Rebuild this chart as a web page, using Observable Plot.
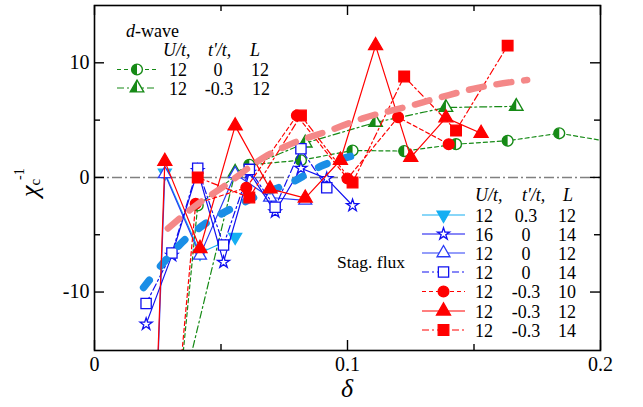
<!DOCTYPE html>
<html>
<head>
<meta charset="utf-8">
<script src="https://cdn.jsdelivr.net/npm/d3@7"></script>
<script src="https://cdn.jsdelivr.net/npm/@observablehq/plot@0.6"></script>
<style>
  html, body { margin: 0; padding: 0; background: #fff; }
  #chart { width: 643px; height: 407px; }
</style>
</head>
<body>
<div id="chart"></div>
<script>
// ---------------- data ----------------
// d-wave, U/t=12, t'/t=0, L=12 (green dashed, half-filled circles)
const dwA_x = [0.0204, 0.0408, 0.0612, 0.0816, 0.1020, 0.1224, 0.1429, 0.1633, 0.1837, 0.2041];
const dwA_y = [-48, -2.45, 1.1, 1.5, 2.35, 2.3, 2.9, 3.2, 3.85, 3.1];
// d-wave, U/t=12, t'/t=-0.3, L=12 (green dash-dot, half-filled triangles)
const dwB_x = [0.0278, 0.0556, 0.0833, 0.1111, 0.1389, 0.1667];
const dwB_y = [-25, 0.45, 3.0, 4.8, 6.1, 6.2];
// Stag. flux, U/t=12, t'/t=0.3, L=12 (cyan, down triangles)
const sfCyan_x = [0.0278, 0.0417, 0.0556];
const sfCyan_y = [0.4, -6.6, -5.2];
// Stag. flux, U/t=16, t'/t=0, L=14 (blue, stars)
const sfStar_x = [0.0204, 0.0306, 0.0408, 0.0510, 0.0612, 0.0714, 0.0816, 0.0918, 0.1020];
const sfStar_y = [-12.8, -6.8, 0.6, -7.4, 0.45, -3.0, 0.8, -0.1, -2.45];
// Stag. flux, U/t=12, t'/t=0, L=12 (blue, open triangles)
const sfTri_x = [0.0208, 0.0278, 0.0417, 0.0556, 0.0694, 0.0833];
const sfTri_y = [-42, 0.3, -6.8, 0.3, -1.75, -2.0];
// Stag. flux, U/t=12, t'/t=0, L=14 (blue dash-dot, open squares)
const sfSq_x = [0.0204, 0.0306, 0.0408, 0.0510, 0.0612, 0.0714, 0.0816, 0.0918];
const sfSq_y = [-11.0, -6.6, 0.8, -5.9, 0.7, -2.6, 2.5, -0.9];
// Stag. flux, U/t=12, t'/t=-0.3, L=10 (red dashed, circles)
const sfCirc_x = [0.02, 0.04, 0.06, 0.08, 0.10, 0.12, 0.14];
const sfCirc_y = [-50, -2.3, -0.9, 5.4, -0.1, 5.25, 2.9];
// Stag. flux, U/t=12, t'/t=-0.3, L=12 (red solid, triangles)
const sfRTri_x = [0.0208, 0.0278, 0.0417, 0.0556, 0.0694, 0.0833, 0.0972, 0.1111, 0.1250, 0.1389, 0.1528];
const sfRTri_y = [-42, 1.4, -6.2, 4.5, -1.0, -1.8, 1.5, 11.5, 1.75, 5.2, 3.85];
// Stag. flux, U/t=12, t'/t=-0.3, L=14 (red dash-dot, squares)
const sfRSq_x = [0.0408, 0.0612, 0.0816, 0.1020, 0.1224, 0.1429, 0.1633];
const sfRSq_y = [0.0, -1.75, 5.4, -0.45, 8.8, 4.1, 11.5];
// thick dashed guide curves
const fitBlue_x = [0.0194, 0.0364, 0.0447, 0.0542, 0.0656, 0.0787, 0.0893, 0.1012];
const fitBlue_y = [-9.6, -5.3, -3.9, -2.7, -1.5, -0.35, 0.96, 1.83];
const fitPink_x = [0.029, 0.040, 0.051, 0.067, 0.078, 0.093, 0.106, 0.124, 0.137, 0.150, 0.171];
const fitPink_y = [-4.45, -2.45, -0.8, 1.75, 2.95, 4.1, 5.15, 6.2, 7.0, 7.75, 8.5];

// axes
const xLabelTicks = [0, 0.1, 0.2];
const xMinorTicks = [0.05, 0.15];
const yLabelTicks = [-10, 0, 10];
const yMinorTicks = [-5, 5];

// ---------------- helpers ----------------
const zip = (xs, ys) => xs.map((x, i) => ({x, y: ys[i]}));

const triDown = {
  draw(ctx, size) {
    const y = -Math.sqrt(size / (Math.sqrt(3) * 3));
    ctx.moveTo(0, -y * 2);
    ctx.lineTo(-Math.sqrt(3) * y, y);
    ctx.lineTo(Math.sqrt(3) * y, y);
    ctx.closePath();
  }
};
const halfCircleLeft = {
  draw(ctx, size) {
    const r = Math.sqrt(size / Math.PI);
    ctx.moveTo(0, -r);
    ctx.arc(0, 0, r, -Math.PI / 2, Math.PI / 2, true);
    ctx.closePath();
  }
};
const halfTriLeft = {
  draw(ctx, size) {
    const y = -Math.sqrt(size / (Math.sqrt(3) * 3));
    ctx.moveTo(0, y * 2);
    ctx.lineTo(Math.sqrt(3) * y, -y);
    ctx.lineTo(0, -y);
    ctx.closePath();
  }
};

const GREEN = "#168a16";
const CYAN = "#14aef2";
const BLUE = "#1010f0";
const BLUE2 = "#2a3cf5";
const RED = "#ff0000";

const S = {
  dwA: {x: dwA_x, y: dwA_y, stroke: GREEN, dash: "4,3", sym: "circle", half: halfCircleLeft, r: 5.4, open: true},
  dwB: {x: dwB_x, y: dwB_y, stroke: GREEN, dash: "7,3,2,3", sym: "triangle", half: halfTriLeft, r: 5, open: true},
  fitBlue: {fit: true, x: fitBlue_x, y: fitBlue_y, stroke: "#1a8ee6", width: 7.5, dash: "9,18"},
  fitPink: {fit: true, x: fitPink_x, y: fitPink_y, stroke: "#f48888", width: 6.5, dash: "15,13"},
  cyan: {x: sfCyan_x, y: sfCyan_y, stroke: CYAN, dash: null, sym: triDown, r: 4.8, fill: CYAN},
  tri: {x: sfTri_x, y: sfTri_y, stroke: BLUE2, dash: null, sym: "triangle", r: 4.8, fill: "white"},
  star: {x: sfStar_x, y: sfStar_y, stroke: BLUE, dash: null, sym: "star", r: 3.8, fill: "white"},
  sq: {x: sfSq_x, y: sfSq_y, stroke: BLUE, dash: "7,3,2,3", sym: "square", r: 5.8, fill: "white"},
  circ: {x: sfCirc_x, y: sfCirc_y, stroke: RED, dash: "4,3", sym: "circle", r: 5.4, fill: RED},
  rtri: {x: sfRTri_x, y: sfRTri_y, stroke: RED, dash: null, sym: "triangle", r: 5.2, fill: RED},
  rsq: {x: sfRSq_x, y: sfRSq_y, stroke: RED, dash: "7,3,2,3", sym: "square", r: 6, fill: RED}
};
const drawOrder = ["dwA", "dwB", "cyan", "tri", "star", "sq", "fitBlue", "circ", "rtri", "rsq", "fitPink"];

const W = 643, H = 407, mL = 94, mR = 43, mT = 5, mB = 57;
const plotH = H - mT - mB, plotW = W - mL - mR;

const marks = [
  Plot.ruleY([0], {stroke: "#808080", strokeWidth: 1.4, strokeDasharray: "10,3,2,3"})
];
for (const key of drawOrder) {
  const s = S[key];
  const data = zip(s.x, s.y);
  if (s.fit) {
    marks.push(Plot.line(data, {x: "x", y: "y", stroke: s.stroke, strokeWidth: s.width,
      strokeDasharray: s.dash, strokeLinecap: "round", curve: "monotone-x", clip: true}));
    continue;
  }
  marks.push(Plot.line(data, {x: "x", y: "y", stroke: s.stroke, strokeWidth: 1.2,
    strokeDasharray: s.dash, clip: true}));
  if (s.open) {
    marks.push(Plot.dot(data, {x: "x", y: "y", symbol: s.sym, r: s.r, fill: "white", stroke: s.stroke, strokeWidth: 1.4, clip: true}));
    marks.push(Plot.dot(data, {x: "x", y: "y", symbol: s.half, r: s.r, fill: s.stroke, stroke: "none", clip: true}));
  } else {
    marks.push(Plot.dot(data, {x: "x", y: "y", symbol: s.sym, r: s.r, fill: s.fill, stroke: s.stroke, strokeWidth: 1.3, clip: true}));
  }
}
// inward ticks
const tickStyle = {stroke: "black", strokeWidth: 1.4};
marks.push(
  Plot.tickX(xLabelTicks, {x: d => d, insetTop: plotH - 10, ...tickStyle}),
  Plot.tickX(xLabelTicks, {x: d => d, insetBottom: plotH - 10, ...tickStyle}),
  Plot.tickX(xMinorTicks, {x: d => d, insetTop: plotH - 6, ...tickStyle}),
  Plot.tickX(xMinorTicks, {x: d => d, insetBottom: plotH - 6, ...tickStyle}),
  Plot.tickY(yLabelTicks, {y: d => d, insetRight: plotW - 10, ...tickStyle}),
  Plot.tickY(yLabelTicks, {y: d => d, insetLeft: plotW - 10, ...tickStyle}),
  Plot.tickY(yMinorTicks, {y: d => d, insetRight: plotW - 6, ...tickStyle}),
  Plot.tickY(yMinorTicks, {y: d => d, insetLeft: plotW - 6, ...tickStyle}),
  Plot.axisX({ticks: xLabelTicks, tickSize: 0, tickPadding: 6, tickFormat: d => String(d), label: null}),
  Plot.axisY({ticks: yLabelTicks, tickSize: 0, tickPadding: 5, tickFormat: d => String(d), label: null}),
  Plot.frame({stroke: "black", strokeWidth: 1.6})
);

const FONT = "Liberation Serif, Times New Roman, serif";
const chart = Plot.plot({
  width: W, height: H,
  marginLeft: mL, marginRight: mR, marginTop: mT, marginBottom: mB,
  x: {domain: [0, 0.2]},
  y: {domain: [-15.1, 15]},
  style: {fontFamily: FONT, fontSize: "20px", color: "black", background: "white"},
  marks
});
document.getElementById("chart").appendChild(chart);

// ---------------- axis titles & legends ----------------
const svg = d3.select(chart);

// y title
const yt = svg.append("text").attr("transform", "translate(38,197) rotate(-90)")
  .attr("text-anchor", "start").attr("font-family", FONT).attr("fill", "black");
yt.append("tspan").attr("font-style", "italic").attr("font-size", 26).text("χ");
yt.append("tspan").attr("font-size", 15).attr("dy", 2).text("c");
yt.append("tspan").attr("font-size", 14).attr("dy", -16).attr("dx", -1).text("-1");

// x title
svg.append("text").attr("x", 347).attr("y", 397).attr("text-anchor", "middle")
  .attr("font-family", FONT).attr("font-style", "italic").attr("font-size", 26).attr("fill", "black").text("δ");

function legendRow(g, y, s, x0, x1, cols, vals) {
  const line = g.append("line").attr("x1", x0).attr("x2", x1).attr("y1", y).attr("y2", y)
    .attr("stroke", s.stroke).attr("stroke-width", 1.2);
  if (s.dash) line.attr("stroke-dasharray", s.dash);
  const cx = (x0 + x1) / 2;
  const size = Math.PI * s.r * s.r;
  const typeOf = t => typeof t === "string" ? {circle: d3.symbolCircle, triangle: d3.symbolTriangle, star: d3.symbolStar, square: d3.symbolSquare}[t] : t;
  const p = d3.symbol().type(typeOf(s.sym)).size(size)();
  if (s.open) {
    g.append("path").attr("d", p).attr("transform", `translate(${cx},${y})`).attr("fill", "white").attr("stroke", s.stroke).attr("stroke-width", 1.4);
    g.append("path").attr("d", d3.symbol().type(s.half).size(size)()).attr("transform", `translate(${cx},${y})`).attr("fill", s.stroke);
  } else {
    g.append("path").attr("d", p).attr("transform", `translate(${cx},${y})`).attr("fill", s.fill).attr("stroke", s.stroke).attr("stroke-width", 1.3);
  }
  vals.forEach((v, i) => g.append("text").attr("x", cols[i]).attr("y", y + 6.5).attr("text-anchor", "middle").text(v));
}
function header(g, y, xs) {
  const h = ["U/t,", "t'/t,", "L"];
  h.forEach((t, i) => g.append("text").attr("x", xs[i]).attr("y", y).attr("text-anchor", "start").attr("font-style", "italic").text(t));
}

// d-wave legend
const g1 = svg.append("g").attr("font-family", FONT).attr("font-size", 18).attr("fill", "black");
const dw = g1.append("text").attr("x", 126).attr("y", 37).attr("text-anchor", "start");
dw.append("tspan").attr("font-style", "italic").text("d");
dw.append("tspan").text("-wave");
header(g1, 56, [163, 208, 250]);
legendRow(g1, 69.5, S.dwA, 117, 157, [178, 218, 260], ["12", "0", "12"]);
legendRow(g1, 88, S.dwB, 117, 157, [178, 219, 261], ["12", "-0.3", "12"]);

// stag flux legend
const g2 = svg.append("g").attr("font-family", FONT).attr("font-size", 18).attr("fill", "black");
header(g2, 201, [475, 522, 563]);
g2.append("text").attr("x", 337).attr("y", 268).attr("text-anchor", "start").attr("font-size", 17.5).text("Stag. flux");
const sfRows = [
  [S.cyan, ["12", "0.3", "12"]],
  [S.star, ["16", "0", "14"]],
  [S.tri, ["12", "0", "12"]],
  [S.sq, ["12", "0", "14"]],
  [S.circ, ["12", "-0.3", "10"]],
  [S.rtri, ["12", "-0.3", "12"]],
  [S.rsq, ["12", "-0.3", "14"]]
];
const rowYs = [215, 234, 253, 272, 291.5, 311, 330];
sfRows.forEach(([s, v], i) => legendRow(g2, rowYs[i], s, 422, 465, [484, 526, 567], v));
</script>
</body>
</html>
